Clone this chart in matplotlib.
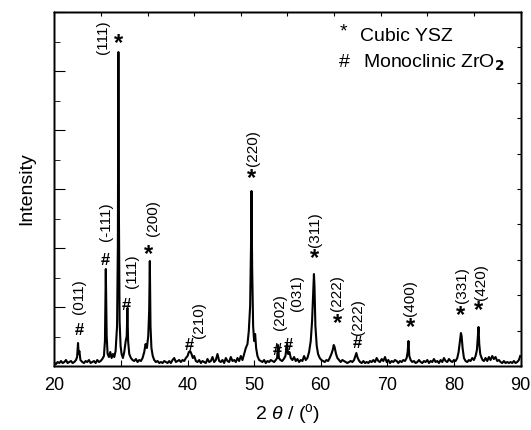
import matplotlib
matplotlib.use("Agg")
import matplotlib.pyplot as plt
from matplotlib.ticker import MultipleLocator, NullFormatter

plt.rcParams['font.family'] = ['Liberation Sans', 'DejaVu Sans']
plt.rcParams['mathtext.fontset'] = 'custom'
plt.rcParams['mathtext.rm'] = 'Liberation Sans'
plt.rcParams['mathtext.it'] = 'Liberation Sans:italic'

# XRD pattern (2theta in degrees, intensity in arbitrary units)
two_theta = [
    20.0, 20.25, 20.5, 20.75, 21.0, 21.25, 21.5, 21.75, 22.0, 22.25, 22.5, 22.75, 23.0, 23.25,
    23.42, 23.56, 23.66, 23.76, 23.92, 24.2,
    24.45, 24.7, 24.95, 25.2, 25.45, 25.7, 25.95, 26.2, 26.45, 26.7, 26.95, 27.2, 27.45,
    27.6, 27.73, 27.86, 28.0, 28.2, 28.4, 28.6, 28.8, 29.0, 29.2, 29.42,
    29.54, 29.62, 29.7, 29.8, 29.95, 30.1, 30.3, 30.5, 30.72,
    30.87, 30.97, 31.08, 31.25, 31.5, 31.75, 32.0, 32.25, 32.5, 32.75, 33.0, 33.25, 33.5, 33.7, 33.9, 34.1,
    34.24, 34.34, 34.44, 34.58, 34.78, 35.0, 35.25, 35.5, 35.75, 36.0, 36.25, 36.5, 36.75, 37.0, 37.25, 37.5, 37.75, 38.0, 38.25, 38.5,
    38.75, 39.0, 39.25, 39.5, 39.75, 40.0, 40.2, 40.4, 40.6, 40.8, 41.0, 41.25, 41.5, 41.75, 42.0, 42.25, 42.5, 42.75, 43.0, 43.25,
    43.5, 43.75, 44.0, 44.25, 44.5, 44.75, 45.0, 45.25, 45.5, 45.75, 46.0, 46.25, 46.5, 46.75, 47.0, 47.25, 47.5, 47.75, 48.0, 48.25,
    48.5, 48.75, 49.0, 49.2, 49.4,
    49.53, 49.61, 49.7, 49.85, 50.0, 50.15, 50.3, 50.5, 50.75, 51.0, 51.25, 51.5, 51.75, 52.0, 52.25, 52.5, 52.75, 53.0, 53.25, 53.45,
    53.58, 53.72, 53.95, 54.2, 54.45, 54.7, 54.85, 54.95, 55.1, 55.3, 55.5, 55.75, 56.0, 56.25, 56.5, 56.75, 57.0, 57.25, 57.5, 57.75, 58.0, 58.25, 58.5, 58.7,
    58.88, 58.98, 59.06, 59.2, 59.4, 59.6, 59.85, 60.1, 60.35, 60.6, 60.85, 61.1, 61.35, 61.6, 61.8,
    61.95, 62.08, 62.3, 62.5, 62.75, 63.0, 63.25, 63.5, 63.75, 64.0, 64.25, 64.5, 64.75, 65.0, 65.2, 65.35, 65.5, 65.7, 65.9, 66.15,
    66.4, 66.65, 66.9, 67.15, 67.4, 67.65, 67.9, 68.15, 68.4, 68.65, 68.9, 69.15, 69.4, 69.65, 69.9, 70.15, 70.4, 70.65, 70.9, 71.15,
    71.4, 71.65, 71.9, 72.15, 72.4, 72.65, 72.9, 73.05,
    73.17, 73.3, 73.5, 73.75, 74.0, 74.25, 74.5, 74.75, 75.0, 75.25, 75.5, 75.75, 76.0, 76.25, 76.5, 76.75, 77.0, 77.25, 77.5, 77.75,
    78.0, 78.25, 78.5, 78.75, 79.0, 79.25, 79.5, 79.75, 80.0, 80.25, 80.5, 80.7, 80.9,
    81.05, 81.15, 81.3, 81.5, 81.75, 82.0, 82.25, 82.5, 82.75, 83.0, 83.25, 83.45, 83.6, 83.69, 83.8, 83.95, 84.1, 84.3, 84.5, 84.75,
    85.0, 85.25, 85.5, 85.75, 86.0, 86.25, 86.5, 86.75, 87.0, 87.25, 87.5, 87.75, 88.0, 88.25, 88.5, 88.75, 89.0, 89.25, 89.5, 89.75, 89.95,
]
intensity = [
    30, 20, 40, 30, 50, 30, 40, 60, 30, 40, 50, 30, 40, 60,
    90, 230, 120, 150, 60, 40,
    30, 50, 40, 60, 30, 40, 50, 30, 60, 40, 50, 70, 100,
    250, 970, 300, 120, 90, 140, 80, 120, 90, 150, 400,
    1200, 3140, 1500, 450, 200, 120, 80, 140, 250,
    300, 580, 250, 120, 80, 60, 50, 70, 40, 60, 50, 80, 140, 220, 180, 300,
    550, 1050, 400, 180, 100, 60, 40, 50, 30, 40, 30, 50, 40, 30, 50, 30, 60, 80, 40, 50,
    60, 40, 60, 50, 80, 100, 140, 150, 120, 80, 100, 50, 40, 60, 30, 50, 40, 30, 70, 40,
    50, 90, 40, 60, 120, 50, 40, 60, 30, 80, 50, 40, 90, 50, 60, 40, 80, 50, 100, 60,
    120, 180, 220, 350, 600,
    1200, 1750, 1000, 400, 250, 320, 180, 100, 60, 50, 40, 60, 30, 50, 40, 60, 50, 40, 60, 80,
    210, 80, 60, 50, 70, 100, 180, 220, 120, 140, 80, 60, 90, 50, 70, 40, 60, 50, 100, 60, 80, 140, 250, 450,
    750, 920, 800, 400, 200, 120, 80, 60, 50, 40, 60, 50, 80, 120, 160,
    210, 190, 120, 80, 60, 40, 60, 50, 40, 30, 40, 50, 40, 60, 100, 130, 90, 60, 40, 30,
    50, 30, 40, 30, 50, 40, 60, 40, 80, 50, 40, 70, 50, 90, 40, 60, 30, 50, 40, 60,
    50, 30, 50, 40, 60, 50, 80, 140,
    250, 100, 60, 40, 50, 30, 40, 60, 40, 30, 50, 40, 60, 30, 50, 40, 70, 40, 50, 30,
    60, 40, 80, 50, 40, 70, 50, 40, 60, 50, 80, 140, 250,
    330, 300, 180, 80, 50, 40, 60, 50, 80, 60, 100, 160, 300, 390, 220, 120, 90, 60, 50, 80,
    50, 90, 60, 100, 70, 90, 50, 60, 40, 30, 50, 30, 40, 30, 40, 30, 50, 30, 40, 60, 100,
]

# Peak annotations: phase symbol position and (hkl) label position
sym_text = ['#', '#', '*', '#', '*', '#', '*', '#', '#', '*', '*', '#', '*', '*', '*']
sym_x = [23.71, 27.62, 29.67, 30.88, 34.13, 40.28, 49.67, 53.48, 55.2, 59.04, 62.45, 65.46, 73.47, 80.99, 83.74]
sym_y = [360, 1060, 3230, 610, 1120, 210, 1880, 160, 210, 1080, 430, 230, 390, 510, 560]
hkl_text = ['(011)', '(-111)', '(111)', '(111)', '(200)', '(210)', '(220)', '(202)', '(031)',
            '(311)', '(222)', '(222)', '(400)', '(331)', '(420)']
hkl_x = [23.71, 27.75, 27.37, 31.63, 34.88, 41.75, 49.82, 53.93, 56.44, 59.19, 62.45, 65.65, 73.47, 81.24, 84.0]
hkl_y = [690, 1440, 3290, 950, 1480, 460, 2180, 540, 730, 1360, 730, 490, 680, 810, 840]

fig = plt.figure(figsize=(5.31, 4.30), dpi=100)
ax = fig.add_axes([0.1023, 0.1488, 0.878, 0.8232])
ax.plot(two_theta, intensity, color='black', lw=1.5)
ax.set_xlim(20, 90)
ax.set_ylim(0, 3540)

ax.xaxis.set_major_locator(MultipleLocator(10))
ax.yaxis.set_major_locator(MultipleLocator(590))
ax.yaxis.set_minor_locator(MultipleLocator(295))
ax.yaxis.set_major_formatter(NullFormatter())
ax.tick_params(axis='x', which='major', direction='in', length=4, top=False, labelsize=13, pad=8)
ax.tick_params(axis='y', which='major', direction='in', length=8, right=False)
ax.tick_params(axis='y', which='minor', direction='in', length=4.5, right=False)

axr = ax.twinx()
axr.set_ylim(0, 10)
axr.yaxis.set_major_locator(MultipleLocator(1))
axr.yaxis.set_major_formatter(NullFormatter())
axr.tick_params(axis='y', direction='in', length=3)

axt = ax.twiny()
axt.set_xlim(0, 10)
axt.xaxis.set_major_locator(MultipleLocator(1))
axt.xaxis.set_major_formatter(NullFormatter())
axt.tick_params(axis='x', direction='in', length=3)

for a in (ax, axr, axt):
    for s in a.spines.values():
        s.set_linewidth(1.0)

ax.set_xlabel(r'2 $\theta$ / ($^{\rm o}$)', fontsize=14, labelpad=6)
ax.set_ylabel('Intensity', fontsize=14, labelpad=10)

for t, x, y in zip(sym_text, sym_x, sym_y):
    if t == '*':
        ax.text(x, y, t, fontsize=17, fontweight='bold', ha='center', va='center')
    else:
        ax.text(x, y, t, fontsize=12, fontweight='bold', ha='center', va='center')
for t, x, y in zip(hkl_text, hkl_x, hkl_y):
    ax.text(x, y, t, fontsize=11, rotation=90, ha='center', va='center')

ax.text(63.35, 3340, '*', fontsize=14, ha='center', va='center')
ax.text(65.85, 3300, 'Cubic YSZ', fontsize=14, ha='left', va='center')
ax.text(63.55, 3040, '#', fontsize=14, ha='center', va='center')
ax.text(66.36, 3040, r'Monoclinic ZrO$_{\mathbf{2}}$', fontsize=14, ha='left', va='center')

fig.savefig('out.png', dpi=100)
